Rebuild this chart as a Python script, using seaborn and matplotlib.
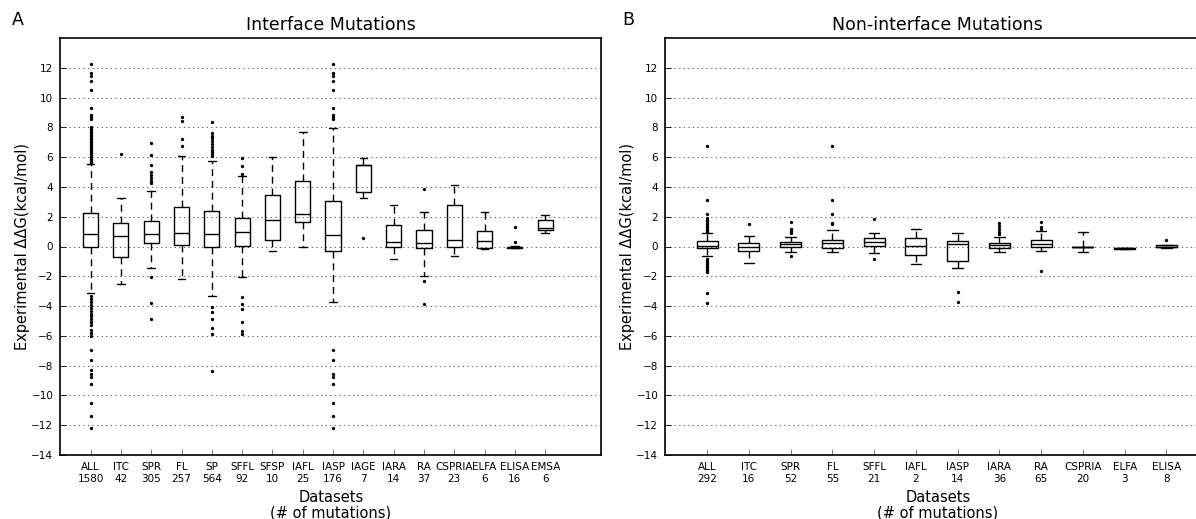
import matplotlib
matplotlib.use("Agg")
import matplotlib.pyplot as plt
import seaborn as sns
import pandas as pd

# Panel A: interface mutations, box summaries
cats_a = ["ALL", "ITC", "SPR", "FL", "SP", "SFFL", "SFSP", "IAFL", "IASP",
          "IAGE", "IARA", "RA", "CSPRIA", "ELFA", "ELISA", "EMSA"]
counts_a = [1580, 42, 305, 257, 564, 92, 10, 25, 176, 7, 14, 37, 23, 6, 16, 6]
lo_a = [-3.13, -2.52, -1.43, -2.17, -3.33, -2.05, -0.29, 0.00, -3.75, 3.26, -0.85, -1.96, -0.63, -0.16, -0.09, 0.89]
q1_a = [0.00, -0.71, 0.25, 0.07, 0.00, 0.04, 0.45, 1.67, -0.27, 3.66, -0.02, -0.13, 0.00, -0.07, -0.07, 1.09]
med_a = [0.87, 0.71, 0.85, 0.94, 0.85, 0.96, 1.79, 2.21, 0.80, 5.45, 0.33, 0.22, 0.45, 0.40, -0.03, 1.25]
q3_a = [2.23, 1.61, 1.70, 2.63, 2.37, 1.92, 3.44, 4.40, 3.04, 5.47, 1.45, 1.09, 2.77, 1.05, 0.00, 1.76]
hi_a = [5.51, 3.26, 3.75, 6.05, 5.74, 4.71, 5.98, 7.68, 7.99, 5.96, 2.81, 2.34, 4.13, 2.34, 0.02, 2.14]
fliers_a = [
    [5.6, 5.7, 5.8, 5.9, 6.0, 6.1, 6.2, 6.3, 6.4, 6.5, 6.6, 6.7, 6.8, 6.9, 7.0, 7.1, 7.2, 7.3,
     7.4, 7.5, 7.6, 7.7, 7.8, 7.9, 8.0, 8.57, 8.71, 8.86, 9.31, 10.54, 11.09, 11.43, 11.65, 12.25,
     -3.3, -3.5, -3.7, -3.9, -4.1, -4.3, -4.5, -4.7, -4.9, -5.1, -5.3, -5.6, -5.8, -6.0,
     -6.94, -7.61, -8.3, -8.55, -8.77, -9.26, -10.49, -11.38, -12.17],
    [6.2],
    [4.24, 4.4, 4.58, 4.8, 5.0, 5.5, 6.16, 6.92, -2.08, -3.8, -4.9],
    [6.74, 7.19, 8.46, 8.7],
    [6.07, 6.2, 6.35, 6.5, 6.7, 6.9, 7.1, 7.3, 7.45, 7.6, 8.35, -4.08, -4.4, -4.9, -5.5, -5.87, -8.33],
    [4.87, 5.42, 5.96, -3.37, -3.88, -4.17, -5.04, -5.65, -5.87],
    [],
    [],
    [8.57, 8.71, 8.86, 9.31, 10.54, 11.09, 11.43, 11.65, 12.25,
     -6.94, -7.61, -8.55, -8.77, -9.26, -10.49, -11.38, -12.17],
    [0.60],
    [],
    [3.88, -2.34, -3.88],
    [],
    [],
    [1.32, 0.27],
    [],
]

# Panel B: non-interface mutations
cats_b = ["ALL", "ITC", "SPR", "FL", "SFFL", "IAFL", "IASP", "IARA", "RA", "CSPRIA", "ELFA", "ELISA"]
counts_b = [292, 16, 52, 55, 21, 2, 14, 36, 65, 20, 3, 8]
lo_b = [-0.63, -1.14, -0.40, -0.38, -0.45, -1.16, -1.45, -0.38, -0.29, -0.38, -0.18, -0.07]
q1_b = [-0.07, -0.33, 0.00, -0.09, 0.04, -0.58, -0.98, -0.07, -0.02, 0.00, -0.16, -0.04]
med_b = [0.04, 0.00, 0.16, 0.22, 0.27, 0.02, 0.16, 0.09, 0.20, 0.00, -0.13, 0.00]
q3_b = [0.38, 0.22, 0.33, 0.47, 0.54, 0.60, 0.38, 0.25, 0.42, 0.00, -0.11, 0.11]
hi_b = [0.94, 0.71, 0.67, 1.14, 0.92, 1.18, 0.92, 0.67, 1.03, 0.98, -0.09, 0.11]
fliers_b = [
    [6.72, 3.15, 2.21, 1.94, 1.8, 1.7, 1.6, 1.5, 1.4, 1.3, 1.2, 1.1, 1.0,
     -0.85, -1.0, -1.1, -1.2, -1.3, -1.4, -1.5, -1.6, -1.74, -3.1, -3.77],
    [1.52],
    [1.67, 1.16, 1.03, 0.89, -0.63],
    [6.72, 3.15, 2.17, 1.61, 1.5],
    [1.88, -0.87],
    [],
    [-3.08, -3.75],
    [1.61, 1.38, 1.16, 1.0, 0.87],
    [1.67, 1.34, 1.2, -1.67],
    [],
    [],
    [0.47],
]

sns.set_style("white")
plt.rcParams["font.family"] = ["DejaVu Sans"]
plt.rcParams["text.color"] = "k"
plt.rcParams["axes.labelcolor"] = "k"
plt.rcParams["xtick.color"] = "k"
plt.rcParams["ytick.color"] = "k"

fig = plt.figure(figsize=(11.96, 5.19), dpi=100)
ax_a = fig.add_axes([60.3 / 1196, 64 / 519, 541 / 1196, 417 / 519])
ax_b = fig.add_axes([665.3 / 1196, 64 / 519, 545 / 1196, 417 / 519])


def draw_panel(ax, cats, counts, lo, q1, med, q3, hi, fliers, title, xmax):
    # box frame: five-number summary, whiskers to min/max of these values
    rows = []
    for c, a, b, m, d, e in zip(cats, lo, q1, med, q3, hi):
        for v in (a, b, m, d, e):
            rows.append((c, v))
    box_df = pd.DataFrame(rows, columns=["dataset", "ddg"])
    sns.boxplot(data=box_df, x="dataset", y="ddg", order=cats, ax=ax,
                whis=(0, 100), width=0.5, fill=False, color="k", linewidth=1.0,
                showfliers=False,
                whiskerprops={"linestyle": (0, (5, 3.5))})

    out = pd.DataFrame([(c, v) for c, vals in zip(cats, fliers) for v in vals],
                       columns=["dataset", "ddg"])
    sns.stripplot(data=out, x="dataset", y="ddg", order=cats, ax=ax,
                  jitter=False, color="k", size=2.4, linewidth=0)

    ax.set_xlim(-1, xmax)
    ax.set_ylim(-14, 14)
    ax.set_yticks(range(-14, 13, 2))
    ax.set_yticklabels([str(t).replace("-", "\u2212") for t in range(-14, 13, 2)], fontsize=7.5)
    ax.set_xticks(range(len(cats)))
    ax.set_xticklabels([f"{c}\n{n}" for c, n in zip(cats, counts)], fontsize=7.5,
                       linespacing=1.25)
    ax.yaxis.grid(True, linestyle=(0, (1.2, 3.5)), color="0.3", linewidth=0.7)
    ax.set_axisbelow(True)
    ax.tick_params(axis="both", direction="in", length=4, width=0.6,
                   bottom=True, left=True, top=False, right=False, pad=5)
    ax.tick_params(axis="x", color="0.4")
    for s in ax.spines.values():
        s.set_color("k")
        s.set_linewidth(1.2)
    ax.set_title(title, fontsize=12.5)
    ax.set_xlabel("Datasets\n(# of mutations)", fontsize=10.5, labelpad=4, linespacing=1.1)
    ax.set_ylabel("Experimental \u0394\u0394G(kcal/mol)", fontsize=10.5, labelpad=1)


draw_panel(ax_a, cats_a, counts_a, lo_a, q1_a, med_a, q3_a, hi_a, fliers_a,
           "Interface Mutations", 16.85)
draw_panel(ax_b, cats_b, counts_b, lo_b, q1_b, med_b, q3_b, hi_b, fliers_b,
           "Non-interface Mutations", 12.05)

fig.text(12 / 1196, 1 - 20 / 519, "A", fontsize=12.5, va="center")
fig.text(622 / 1196, 1 - 20 / 519, "B", fontsize=12.5, va="center")

fig.savefig("out.png", dpi=100)
